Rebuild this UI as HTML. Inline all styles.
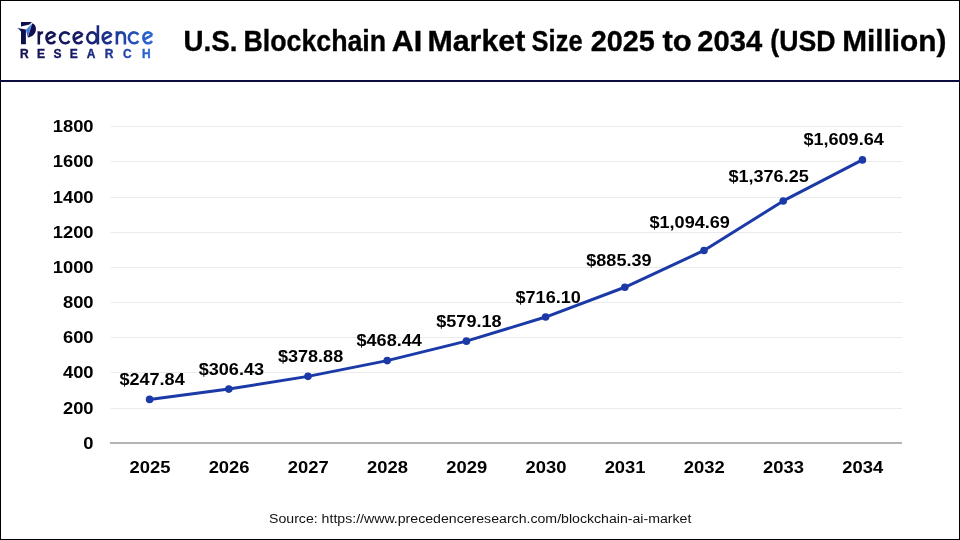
<!DOCTYPE html>
<html><head><meta charset="utf-8">
<style>
html,body{margin:0;padding:0;background:#fff;}
body{width:960px;height:540px;position:relative;overflow:hidden;font-family:"Liberation Sans",sans-serif;}
#frame{position:absolute;left:0;top:0;width:958px;height:538px;border:1px solid #000;}
#hline{position:absolute;left:0;top:80px;width:960px;height:2px;background:#0c0c40;}
.src{position:absolute;left:269px;top:511px;font-size:12.5px;color:#111;white-space:nowrap;transform:scaleX(1.13);transform-origin:0 0;line-height:16px;will-change:transform;}
svg{position:absolute;left:0;top:0;will-change:transform;}
.yl text{font-weight:bold;font-size:16px;fill:#000;}
.dl text{font-weight:bold;font-size:16px;fill:#000;}
</style></head><body>
<div id="frame"></div>
<div id="hline"></div>
<svg width="960" height="540" viewBox="0 0 960 540" font-family="Liberation Sans, sans-serif">
  <defs>
    <linearGradient id="lg" gradientUnits="userSpaceOnUse" x1="37" y1="0" x2="154" y2="0">
      <stop offset="0" stop-color="#13134f"/>
      <stop offset="0.4" stop-color="#181c68"/>
      <stop offset="0.7" stop-color="#1f3c9e"/>
      <stop offset="1" stop-color="#2d6bdb"/>
    </linearGradient>
    <linearGradient id="lg2" gradientUnits="userSpaceOnUse" x1="20" y1="0" x2="152" y2="0">
      <stop offset="0" stop-color="#13134f"/>
      <stop offset="0.45" stop-color="#181c68"/>
      <stop offset="0.75" stop-color="#1f3c9e"/>
      <stop offset="1" stop-color="#2d6bdb"/>
    </linearGradient>
    <linearGradient id="bl" gradientUnits="userSpaceOnUse" x1="26" y1="25" x2="30" y2="36">
      <stop offset="0" stop-color="#5d9cf0"/>
      <stop offset="1" stop-color="#2a5fd0"/>
    </linearGradient>
  </defs>
  <g font-weight="bold" font-size="29px" fill="#000" stroke="#000" stroke-width="0.35"><text transform="translate(183.49,51) scale(0.957,1)">U.S.</text><text transform="translate(243.56,51) scale(0.922,1)">Blockchain</text><text transform="translate(391.85,51) scale(1.052,1)">AI</text><text transform="translate(427.51,51) scale(1.046,1)">Market</text><text transform="translate(531.62,51) scale(0.878,1)">Size</text><text transform="translate(590.71,51) scale(0.994,1)">2025</text><text transform="translate(662.50,51) scale(1.068,1)">to</text><text transform="translate(697.29,51) scale(1.006,1)">2034</text><text transform="translate(770.33,51) scale(0.919,1)">(USD</text><text transform="translate(842.14,51) scale(1.028,1)">Million)</text></g>
  <g id="logo">
    <polygon points="21,22 32,22 29.5,24.6 21,26.5" fill="#10104e"/>
    <path d="M17.1,28.1 L25.9,29.5 L25.9,44.2 L21,44.2 L21,31.8 C20,30.2 18.6,29 17.1,28.1 Z" fill="#10104e"/>
    <polygon points="32,23.4 25.9,29.8 27.7,37.2" fill="url(#bl)"/>
    <path d="M32.2,23.2 C35.5,24.5 36.4,27.5 35.7,31 C34.9,34.5 31.5,37 27.8,37.6 Z" fill="#10104e"/>
    <path d="M38.80,31.2 V44.6 M38.80,36.5 C39.20,33.6 41.00,32.5 43.10,32.5 M55.31,35.12 L46.74,39.71 M55.31,35.12 A4.75,5.45 0 1 0 55.09,40.98 M69.45,34.65 A5.25,5.45 0 1 0 69.45,41.05 M82.51,35.12 L73.94,39.71 M82.51,35.12 A4.75,5.45 0 1 0 82.29,40.98 M92.00,32.40 A4.75,5.45 0 1 0 92.00,43.30 A4.75,5.45 0 1 0 92.00,32.40 M97.90,25.3 V44.6 M111.56,35.12 L102.99,39.71 M111.56,35.12 A4.75,5.45 0 1 0 111.34,40.98 M116.90,31.2 V44.6 M116.90,37.5 C117.20,33.8 118.70,32.4 120.90,32.4 C123.40,32.4 124.90,34.2 124.90,37.5 V44.6 M138.35,34.65 A5.25,5.45 0 1 0 138.35,41.05 M152.21,35.12 L143.64,39.71 M152.21,35.12 A4.75,5.45 0 1 0 151.99,40.98" fill="none" stroke="url(#lg)" stroke-width="2.6" stroke-linecap="butt"/>
    <g font-weight="bold" font-size="12px" fill="url(#lg2)" stroke="url(#lg2)" stroke-width="0.35" text-anchor="middle">
      <text x="24.25" y="57.8">R</text><text x="41" y="57.8">E</text><text x="57.4" y="57.8">S</text><text x="73.65" y="57.8">E</text><text x="91.1" y="57.8">A</text><text x="109.15" y="57.8">R</text><text x="127.35" y="57.8">C</text><text x="146.45" y="57.8">H</text>
    </g>
  </g>
  <g stroke="#ebebeb" stroke-width="1">
<line x1="110.5" y1="408.50" x2="902" y2="408.50"/>
<line x1="110.5" y1="372.50" x2="902" y2="372.50"/>
<line x1="110.5" y1="337.50" x2="902" y2="337.50"/>
<line x1="110.5" y1="302.50" x2="902" y2="302.50"/>
<line x1="110.5" y1="267.50" x2="902" y2="267.50"/>
<line x1="110.5" y1="232.50" x2="902" y2="232.50"/>
<line x1="110.5" y1="197.50" x2="902" y2="197.50"/>
<line x1="110.5" y1="161.50" x2="902" y2="161.50"/>
<line x1="110.5" y1="126.50" x2="902" y2="126.50"/>
  </g>
  <line x1="110" y1="443" x2="902" y2="443" stroke="#b4b4b4" stroke-width="2"/>
  <g class="yl" text-anchor="end">
<text transform="translate(93.6,448.70) scale(1.15,1)">0</text>
<text transform="translate(93.6,414.20) scale(1.15,1)">200</text>
<text transform="translate(93.6,378.20) scale(1.15,1)">400</text>
<text transform="translate(93.6,343.20) scale(1.15,1)">600</text>
<text transform="translate(93.6,308.20) scale(1.15,1)">800</text>
<text transform="translate(93.6,273.20) scale(1.15,1)">1000</text>
<text transform="translate(93.6,238.20) scale(1.15,1)">1200</text>
<text transform="translate(93.6,203.20) scale(1.15,1)">1400</text>
<text transform="translate(93.6,167.20) scale(1.15,1)">1600</text>
<text transform="translate(93.6,132.20) scale(1.15,1)">1800</text>
  </g>
  <g class="yl" text-anchor="middle">
<text transform="translate(149.90,473) scale(1.15,1)">2025</text>
<text transform="translate(229.10,473) scale(1.15,1)">2026</text>
<text transform="translate(308.30,473) scale(1.15,1)">2027</text>
<text transform="translate(387.50,473) scale(1.15,1)">2028</text>
<text transform="translate(466.70,473) scale(1.15,1)">2029</text>
<text transform="translate(545.90,473) scale(1.15,1)">2030</text>
<text transform="translate(625.10,473) scale(1.15,1)">2031</text>
<text transform="translate(704.30,473) scale(1.15,1)">2032</text>
<text transform="translate(783.50,473) scale(1.15,1)">2033</text>
<text transform="translate(862.70,473) scale(1.15,1)">2034</text>
  </g>
  <polyline fill="none" stroke="#1b3aa8" stroke-width="3" stroke-linejoin="round" points="149.6,399.41 228.8,389.1 308.0,376.36 387.2,360.61 466.4,341.13 545.6,317.05 624.8,287.27 704.0,250.46 783.2,200.93 862.4,159.88"/>
  <g fill="#1b3aa8"><circle cx="149.6" cy="399.41" r="3.8"/><circle cx="228.8" cy="389.1" r="3.8"/><circle cx="308.0" cy="376.36" r="3.8"/><circle cx="387.2" cy="360.61" r="3.8"/><circle cx="466.4" cy="341.13" r="3.8"/><circle cx="545.6" cy="317.05" r="3.8"/><circle cx="624.8" cy="287.27" r="3.8"/><circle cx="704.0" cy="250.46" r="3.8"/><circle cx="783.2" cy="200.93" r="3.8"/><circle cx="862.4" cy="159.88" r="3.8"/></g>
  <g class="dl">
<text transform="translate(119.40,385.10) scale(1.13,1)">$247.84</text>
<text transform="translate(198.70,375.00) scale(1.13,1)">$306.43</text>
<text transform="translate(277.90,361.50) scale(1.13,1)">$378.88</text>
<text transform="translate(356.50,345.80) scale(1.13,1)">$468.44</text>
<text transform="translate(436.25,327.00) scale(1.13,1)">$579.18</text>
<text transform="translate(515.50,303.00) scale(1.13,1)">$716.10</text>
<text transform="translate(586.25,266.25) scale(1.13,1)">$885.39</text>
<text transform="translate(649.50,228.00) scale(1.13,1)">$1,094.69</text>
<text transform="translate(728.40,181.90) scale(1.13,1)">$1,376.25</text>
<text transform="translate(803.40,145.30) scale(1.13,1)">$1,609.64</text>
  </g>
</svg>
<div class="src">Source: https://www.precedenceresearch.com/blockchain-ai-market</div>
</body></html>
